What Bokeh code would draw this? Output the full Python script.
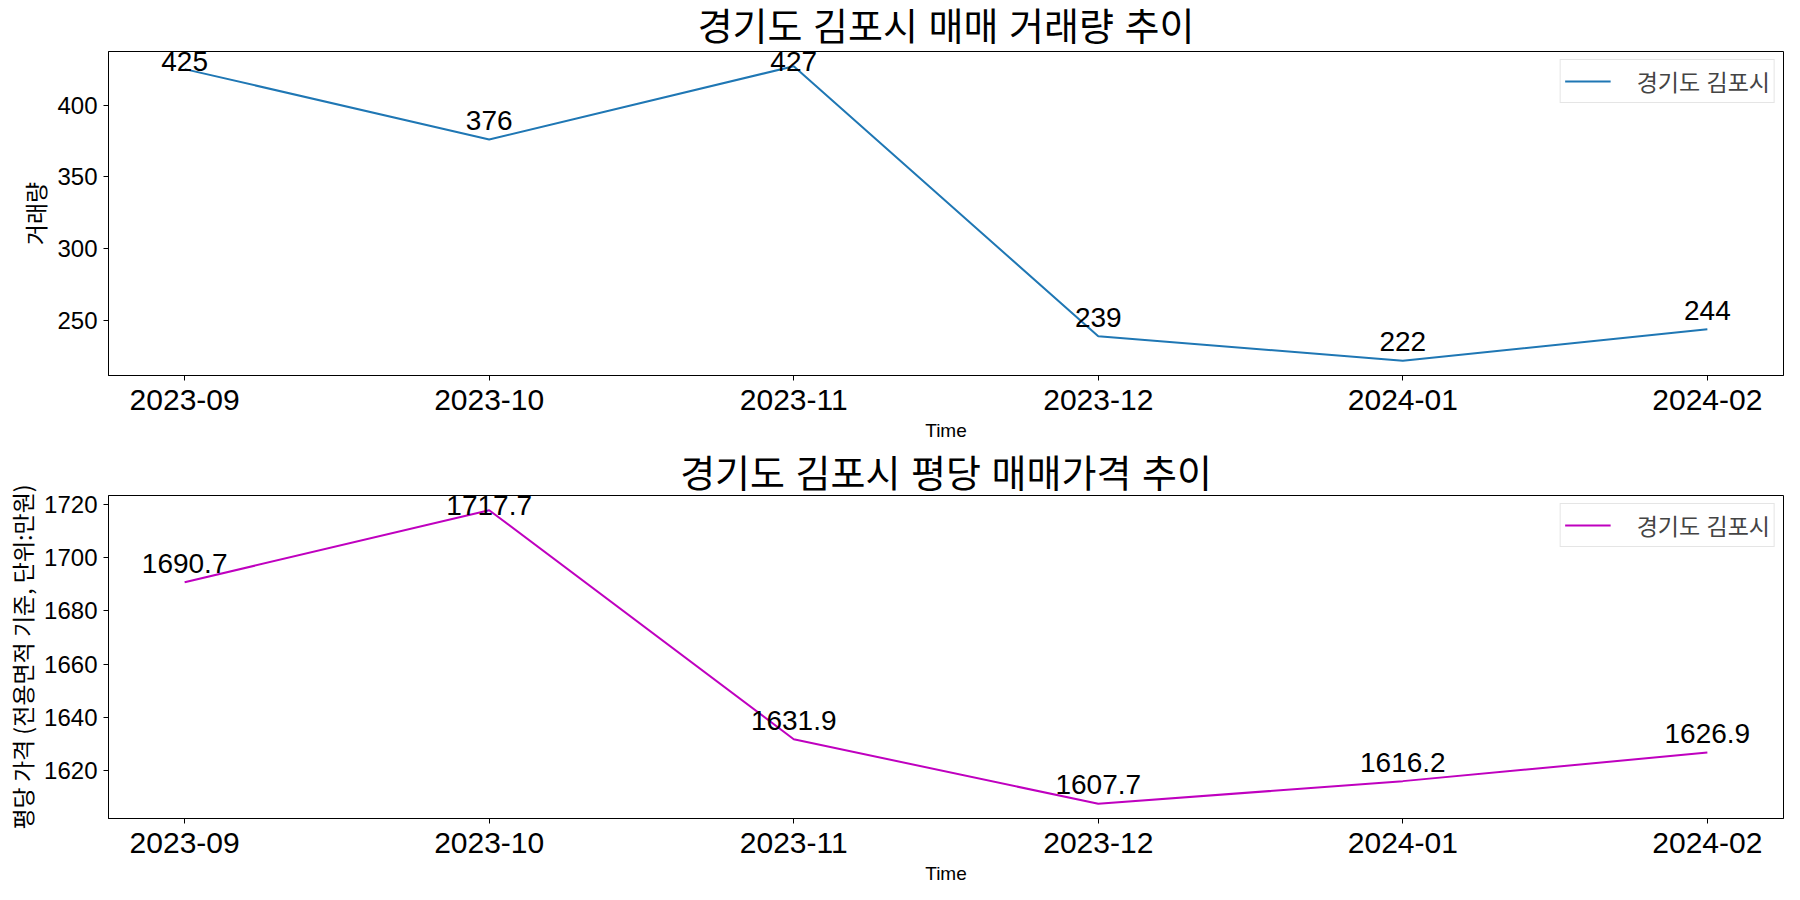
from bokeh.plotting import figure
from bokeh.layouts import column
from bokeh.models import (Range1d, FixedTicker, SingleIntervalTicker, Legend, LegendItem,
                          ColumnDataSource, Title, Label)
from bokeh.embed import file_html
from bokeh.resources import INLINE

months = ["2023-09", "2023-10", "2023-11", "2023-12", "2024-01", "2024-02"]
volume = [425, 376, 427, 239, 222, 244]
price = [1690.7, 1717.7, 1631.9, 1607.7, 1616.2, 1626.9]
region = "경기도 김포시"
title_volume = "경기도 김포시 매매 거래량 추이"
title_price = "경기도 김포시 평당 매매가격 추이"
ylabel_volume = "거래량"
ylabel_price = "평당 가격 (전용면적 기준, 단위:만원)"
xlabel = "Time"

KFONT = "Noto Sans CJK KR"
KFONT_TIGHT = "Liberation Sans, Noto Sans CJK KR"
NFONT = "Liberation Sans"
FRAME_H = 325


def make(values, labels, color, title, ylabel, interval, height, btop, bbottom, tstandoff):
    xs = list(range(len(months)))
    lo, hi = min(values), max(values)
    pad = (hi - lo) * 0.05
    y0, y1 = lo - pad, hi + pad
    p = figure(width=1792, height=height, output_backend="svg", toolbar_location=None,
               x_range=Range1d(-0.25, len(months) - 0.75),
               y_range=Range1d(y0, y1),
               min_border_left=108, min_border_right=9,
               min_border_top=btop, min_border_bottom=bbottom)
    p.title = Title(text=title, align="center", text_font=KFONT_TIGHT, text_font_size="38px",
                    text_font_style="normal", text_color="black", standoff=tstandoff)
    p.xgrid.visible = False
    p.ygrid.visible = False
    p.outline_line_color = "black"
    p.outline_line_width = 1
    p.background_fill_color = "white"
    p.border_fill_alpha = 0

    src = ColumnDataSource(dict(x=xs, y=values, lab=labels))
    r = p.line("x", "y", source=src, line_color=color, line_width=2)
    scale = FRAME_H / (y1 - y0)
    for xv, yv, lab in zip(xs, values, labels):
        dist_top = (y1 - yv) * scale  # pixels from the frame top
        off = min(19, dist_top - 10)   # keep label inside the frame (annotations are clipped)
        p.add_layout(Label(x=xv, y=yv, text=lab, text_align="center",
                           text_baseline="alphabetic", y_offset=off, text_font=NFONT,
                           text_font_size="28px", text_color="black"))

    p.xaxis.ticker = FixedTicker(ticks=xs)
    p.xaxis.major_label_overrides = {i: m for i, m in enumerate(months)}
    p.yaxis.ticker = SingleIntervalTicker(interval=interval)
    for ax in (p.xaxis, p.yaxis):
        ax.axis_line_color = "black"
        ax.major_tick_line_color = "black"
        ax.major_tick_out = 5
        ax.major_tick_in = 0
        ax.minor_tick_line_color = None
        ax.major_label_text_font = NFONT
        ax.axis_label_text_font_style = "normal"
        ax.axis_label_text_color = "black"
        ax.major_label_text_color = "black"
    p.xaxis.axis_label_text_font = NFONT
    p.xaxis.axis_label_text_font_size = "19px"
    p.yaxis.axis_label_text_font = KFONT
    p.yaxis.axis_label_text_font_size = "23px"
    p.xaxis.major_label_text_font_size = "30px"
    p.yaxis.major_label_text_font_size = "24px"
    p.xaxis.major_label_standoff = 9
    p.yaxis.major_label_standoff = 6
    p.xaxis.axis_label = xlabel
    p.yaxis.axis_label = ylabel
    p.xaxis.axis_label_standoff = 7
    p.yaxis.axis_label_standoff = 2

    leg = Legend(items=[LegendItem(label=region, renderers=[r])], location="top_right",
                 label_text_font=KFONT_TIGHT, label_text_font_size="23px",
                 glyph_width=46, glyph_height=20, label_standoff=26,
                 padding=4, margin=8, border_line_color="#cccccc",
                 border_line_width=1, background_fill_alpha=0.9)
    p.add_layout(leg)
    return p


p1 = make(volume, [str(v) for v in volume], "#1f77b4", title_volume, ylabel_volume, 50, 450, 50, 75, 7)
p2 = make(price, [f"{v:.1f}" for v in price], "#bf00bf", title_price, ylabel_price, 20, 445, 44, 77, 1)

layout = column(p1, p2, spacing=0)
open("out.html", "w").write(file_html(layout, INLINE))
